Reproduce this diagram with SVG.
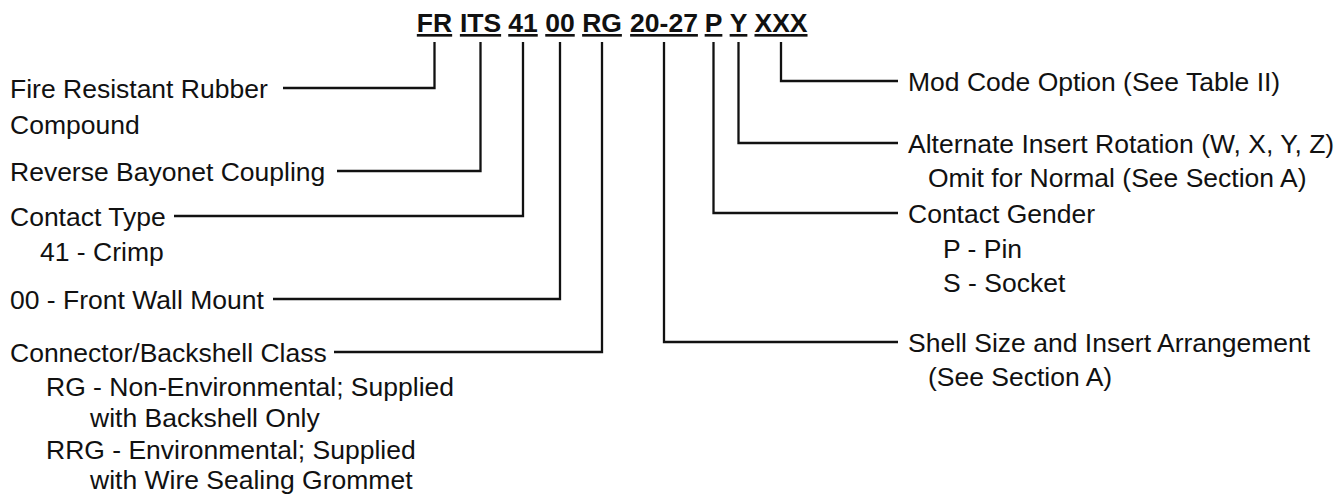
<svg xmlns="http://www.w3.org/2000/svg" width="1341" height="494" viewBox="0 0 1341 494">
<style>
.code{font-family:"Liberation Sans",Arial,sans-serif;font-weight:bold;font-size:26.5px;fill:#111;text-anchor:middle;text-decoration:underline}
.lbl{font-family:"Liberation Sans",Arial,sans-serif;font-size:26.5px;fill:#111}
.conn{fill:none;stroke:#111;stroke-width:2.3}
</style>
<rect width="1341" height="494" fill="#fff"/>
<g id="code">
<text class="code" x="434.5" y="32">FR</text>
<text class="code" x="480.5" y="32">ITS</text>
<text class="code" x="523" y="32">41</text>
<text class="code" x="560" y="32">00</text>
<text class="code" x="602" y="32">RG</text>
<text class="code" x="664" y="32">20-27</text>
<text class="code" x="713.5" y="32">P</text>
<text class="code" x="738.5" y="32">Y</text>
<text class="code" x="781" y="32">XXX</text>
</g>
<g id="connectors">
<polyline class="conn" points="434.5,42 434.5,88 283,88"/>
<polyline class="conn" points="480.5,42 480.5,171 337,171"/>
<polyline class="conn" points="523,42 523,216 174,216"/>
<polyline class="conn" points="560,42 560,299 273,299"/>
<polyline class="conn" points="602,42 602,352 334,352"/>
<polyline class="conn" points="664,42 664,342 898,342"/>
<polyline class="conn" points="713.5,42 713.5,213 898,213"/>
<polyline class="conn" points="738.5,42 738.5,143 898,143"/>
<polyline class="conn" points="781,42 781,81 898,81"/>
</g>
<g id="fire">
<text class="lbl" x="10" y="97.5">Fire Resistant Rubber</text>
<text class="lbl" x="10" y="134">Compound</text>
</g>
<g id="bayonet">
<text class="lbl" x="10" y="180.5">Reverse Bayonet Coupling</text>
</g>
<g id="contact-type">
<text class="lbl" x="10" y="225.5">Contact Type</text>
<text class="lbl" x="40" y="261">41 - Crimp</text>
</g>
<g id="mount">
<text class="lbl" x="10" y="308.5">00 - Front Wall Mount</text>
</g>
<g id="class">
<text class="lbl" x="10" y="361.5">Connector/Backshell Class</text>
<text class="lbl" x="46" y="396">RG - Non-Environmental; Supplied</text>
<text class="lbl" x="90" y="427">with Backshell Only</text>
<text class="lbl" x="46" y="459">RRG - Environmental; Supplied</text>
<text class="lbl" x="90" y="489">with Wire Sealing Grommet</text>
</g>
<g id="mod">
<text class="lbl" x="908" y="90.5">Mod Code Option (See Table II)</text>
</g>
<g id="rotation">
<text class="lbl" x="908" y="152.5">Alternate Insert Rotation (W, X, Y, Z)</text>
<text class="lbl" x="928" y="187">Omit for Normal (See Section A)</text>
</g>
<g id="gender">
<text class="lbl" x="908" y="222.5">Contact Gender</text>
<text class="lbl" x="943" y="258">P - Pin</text>
<text class="lbl" x="943" y="292">S - Socket</text>
</g>
<g id="shell">
<text class="lbl" x="908" y="351.5">Shell Size and Insert Arrangement</text>
<text class="lbl" x="928" y="386">(See Section A)</text>
</g>
</svg>
